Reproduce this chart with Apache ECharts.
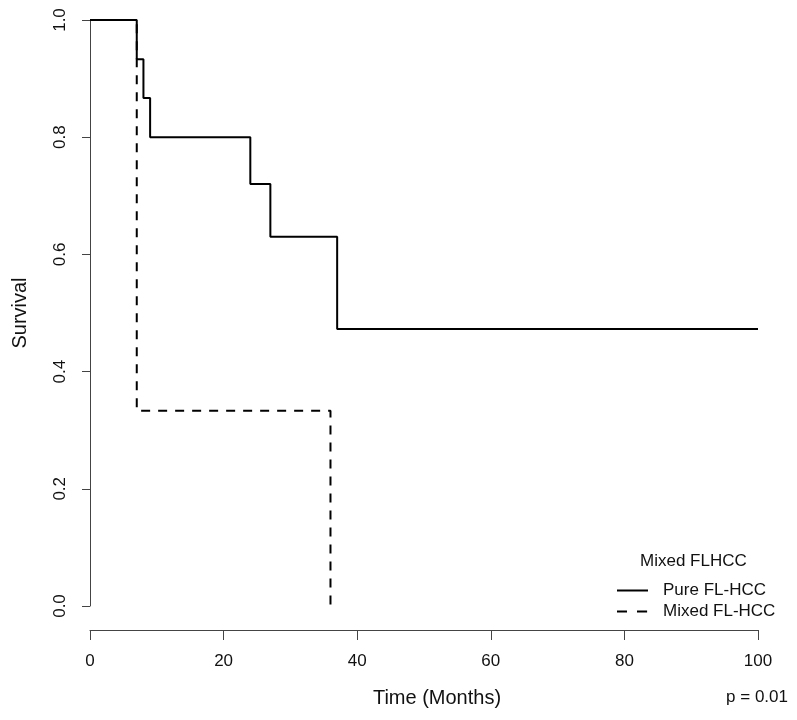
<!DOCTYPE html>
<html>
<head>
<meta charset="utf-8">
<script src="https://cdn.jsdelivr.net/npm/echarts@6/dist/echarts.min.js"></script>
<style>html,body{margin:0;padding:0;background:#fff}#c{width:797px;height:720px}</style>
</head>
<body>
<div id="c"></div>
<script>
// Kaplan-Meier step points (time in months, survival)
const pureTimes = [0, 7, 8, 9, 24, 27, 37, 100];
const pureSurv  = [1.0, 0.933, 0.867, 0.800, 0.720, 0.630, 0.4725, 0.4725];
const mixedTimes = [0, 7, 36];
const mixedSurv  = [1.0, 0.333, 0.0];
const seriesNames = ['Pure FL-HCC', 'Mixed FL-HCC'];
const legendTitle = 'Mixed FLHCC';
const xTitle = 'Time (Months)';
const yTitle = 'Survival';
const pText = 'p = 0.01';

const FONT = '"Liberation Sans", Arial, sans-serif';
const chart = echarts.init(document.getElementById('c'), null, {renderer: 'canvas'});
const toPairs = (xs, ys) => xs.map((x, i) => [x, ys[i]]);

chart.setOption({
  animation: false,
  backgroundColor: '#ffffff',
  grid: {left: 90, right: 39, top: 20, bottom: 114, containLabel: false, outerBoundsMode: 'none'},
  xAxis: {
    type: 'value', min: 0, max: 100, interval: 20, offset: 24,
    axisLine: {show: true, onZero: false, lineStyle: {color: '#444', width: 1}},
    axisTick: {show: true, length: 10, lineStyle: {color: '#444'}},
    splitLine: {show: false},
    axisLabel: {color: '#111', fontSize: 17, fontFamily: FONT, margin: 23},
    name: xTitle, nameLocation: 'middle', nameGap: 58,
    nameTextStyle: {color: '#111', fontSize: 20, fontFamily: FONT, padding: [0, 0, 0, 26]}
  },
  yAxis: {
    type: 'value', min: 0, max: 1, interval: 0.2,
    axisLine: {show: true, onZero: false, lineStyle: {color: '#444', width: 1}},
    axisTick: {show: true, length: 8, lineStyle: {color: '#444'}},
    splitLine: {show: false},
    axisLabel: {color: '#111', fontSize: 17, fontFamily: FONT, rotate: 90, margin: 21,
      formatter: v => v.toFixed(1)},
    name: yTitle, nameLocation: 'middle', nameGap: 60, nameRotate: 90,
    nameTextStyle: {color: '#111', fontSize: 20, fontFamily: FONT}
  },
  legend: {
    orient: 'vertical', left: 617, top: 582, padding: 0,
    itemWidth: 31, itemHeight: 2, itemGap: 4,
    textStyle: {color: '#111', fontSize: 17, lineHeight: 17, fontFamily: FONT, padding: [0, 0, 0, 10]},
    data: [
      {name: seriesNames[0], icon: 'path://M0,0H31V2H0Z'},
      {name: seriesNames[1], icon: 'path://M0,0H10V2H0Z M20,0H30V2H20Z M30.9,0H31V2H30.9Z'}
    ]
  },
  series: [
    {
      name: seriesNames[0], type: 'line', step: 'end', showSymbol: false, symbol: 'none',
      data: toPairs(pureTimes, pureSurv),
      lineStyle: {color: '#000', width: 2, type: 'solid'},
      itemStyle: {color: '#000'}
    },
    {
      name: seriesNames[1], type: 'line', step: 'end', showSymbol: false, symbol: 'none',
      data: toPairs(mixedTimes, mixedSurv),
      lineStyle: {color: '#000', width: 2, type: [9, 8]},
      itemStyle: {color: '#000'}
    }
  ],
  graphic: [
    {type: 'text', left: 640, top: 553,
      style: {text: legendTitle, fill: '#111', font: '17px ' + FONT}},
    {type: 'text', right: 9, top: 689,
      style: {text: pText, fill: '#111', font: '17px ' + FONT}}
  ]
});
</script>
</body>
</html>
